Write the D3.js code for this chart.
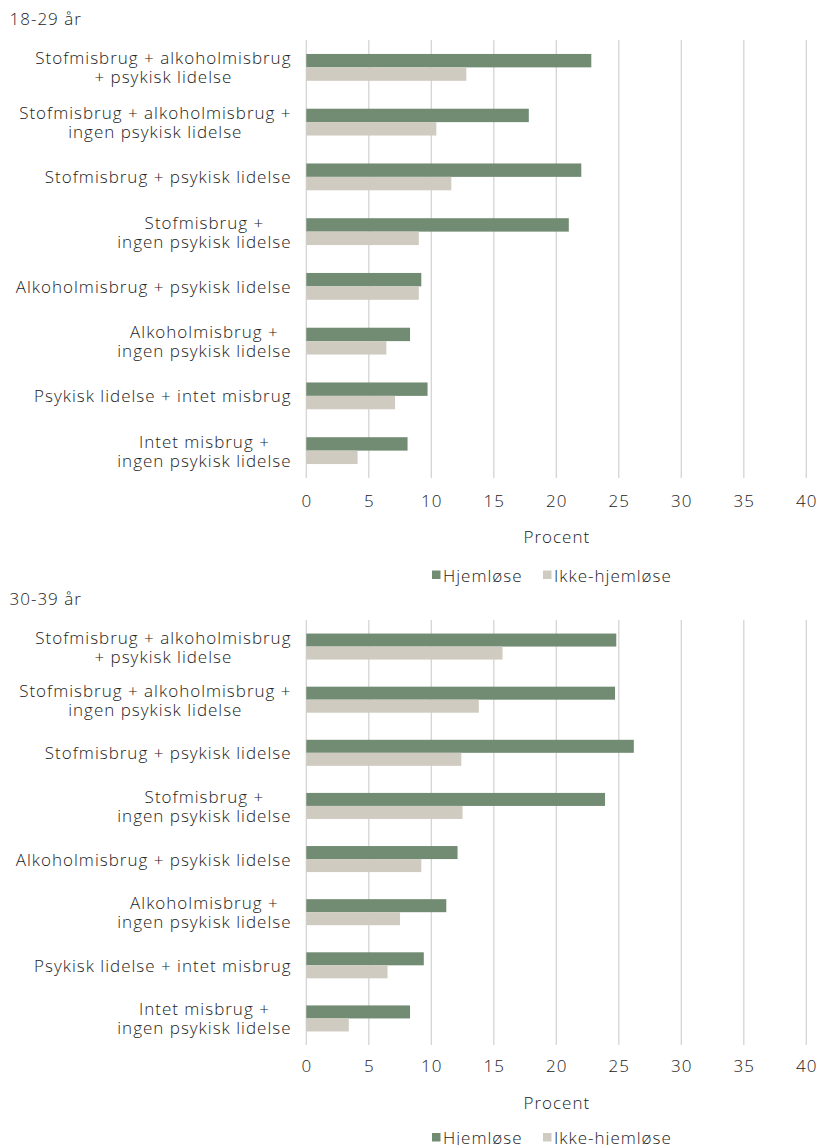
<!DOCTYPE html>
<html>
<head>
<meta charset="utf-8">
<script src="https://cdn.jsdelivr.net/npm/d3@7/dist/d3.min.js"></script>
<style>
  html, body { margin: 0; padding: 0; background: #ffffff; }
  svg { display: block; }
  text { font-family: "Open Sans", "Noto Sans", sans-serif; font-weight: 300; fill: #222222; letter-spacing: 1px; }
</style>
</head>
<body>
<script>
// Category labels (line breaks mark wrapped lines)
const categories = [
  "Stofmisbrug + alkoholmisbrug\n+ psykisk lidelse",
  "Stofmisbrug + alkoholmisbrug +\ningen psykisk lidelse",
  "Stofmisbrug + psykisk lidelse",
  "Stofmisbrug +\ningen psykisk lidelse",
  "Alkoholmisbrug + psykisk lidelse",
  "Alkoholmisbrug +\ningen psykisk lidelse",
  "Psykisk lidelse + intet misbrug",
  "Intet misbrug +\ningen psykisk lidelse"
];

const seriesNames = ["Hjemløse", "Ikke-hjemløse"];

// 18-29 år
const hjemloese1829      = [22.8, 17.8, 22.0, 21.0, 9.2, 8.3, 9.7, 8.1];
const ikkeHjemloese1829  = [12.8, 10.4, 11.6, 9.0, 9.0, 6.4, 7.1, 4.1];

// 30-39 år
const hjemloese3039      = [24.8, 24.7, 26.2, 23.9, 12.1, 11.2, 9.4, 8.3];
const ikkeHjemloese3039  = [15.7, 13.8, 12.4, 12.5, 9.2, 7.5, 6.5, 3.4];

const xTicks = [0, 5, 10, 15, 20, 25, 30, 35, 40];
const xDomain = [0, 40];

const colors = ["#728c73", "#cfcbc1"];
const FS = "17px";

const W = 821, H = 1145;
const svg = d3.select("body").append("svg").attr("width", W).attr("height", H);

// centred text that ignores the trailing letter-spacing
function centred(sel) {
  return sel.attr("text-anchor", "middle").attr("dx", 0.5);
}

function drawPanel(title, hj, ikke, layout) {
  const g = svg.append("g");

  g.append("text")
    .attr("x", 9.5).attr("y", layout.titleY)
    .attr("dominant-baseline", "central")
    .style("font-size", FS)
    .text(title);

  const x = d3.scaleLinear().domain(xDomain).range([306.3, 806.3]);
  const y = d3.scaleBand().domain(d3.range(categories.length))
    .range([layout.top, layout.bottom]).paddingInner(0.51).paddingOuter(0.255);
  const inner = d3.scaleBand().domain([0, 1]).range([0, y.bandwidth()]);

  // vertical gridlines
  g.append("g").selectAll("line").data(xTicks).join("line")
    .attr("x1", d => x(d)).attr("x2", d => x(d))
    .attr("y1", layout.top).attr("y2", layout.bottom)
    .attr("stroke", "#d4d4d4").attr("stroke-width", 1.3);

  // tick labels
  g.append("g").selectAll("text").data(xTicks).join("text")
    .attr("x", d => x(d)).attr("y", layout.tickY)
    .attr("dominant-baseline", "central")
    .style("font-size", FS)
    .call(centred)
    .text(d => d);

  g.append("text")
    .attr("x", x(20)).attr("y", layout.axisTitleY)
    .attr("dominant-baseline", "central")
    .style("font-size", FS)
    .call(centred)
    .text("Procent");

  // bars
  const rows = categories.map((c, i) => ({ i, vals: [hj[i], ikke[i]] }));
  const grp = g.append("g").selectAll("g").data(rows).join("g")
    .attr("transform", d => `translate(0,${y(d.i)})`);
  grp.selectAll("rect").data(d => d.vals.map((v, k) => ({ v, k }))).join("rect")
    .attr("x", x(0))
    .attr("y", d => inner(d.k))
    .attr("width", d => x(d.v) - x(0))
    .attr("height", inner.bandwidth())
    .attr("fill", d => colors[d.k]);

  // category labels: block right-aligned, lines centred within block
  const rightEdge = 291.5;
  const lineH = 19;
  categories.forEach((c, i) => {
    const lines = c.split("\n");
    const cy = y(i) + y.bandwidth() / 2;
    const tmp = lines.map((ln, j) => g.append("text")
      .attr("y", cy + (j - (lines.length - 1) / 2) * lineH)
      .attr("dominant-baseline", "central")
      .attr("text-anchor", "middle")
      .style("font-size", FS)
      .text(ln));
    const maxW = d3.max(tmp, t => t.node().getComputedTextLength());
    tmp.forEach(t => t.attr("x", rightEdge - maxW / 2));
  });

  // legend
  const lg = g.append("g");
  const items = [{ name: seriesNames[0], x: 432 }, { name: seriesNames[1], x: 543 }];
  items.forEach((it, k) => {
    lg.append("rect")
      .attr("x", it.x).attr("y", layout.legendY - 4.5)
      .attr("width", 8.5).attr("height", 8.5)
      .attr("fill", colors[k]);
    lg.append("text")
      .attr("x", it.x + 11).attr("y", layout.legendY)
      .attr("dominant-baseline", "central")
      .style("font-size", FS)
      .text(it.name);
  });
}

drawPanel("18-29 år", hjemloese1829, ikkeHjemloese1829,
  { titleY: 18, top: 40, bottom: 478, tickY: 500, axisTitleY: 536, legendY: 575 });
drawPanel("30-39 år", hjemloese3039, ikkeHjemloese3039,
  { titleY: 598, top: 620, bottom: 1045, tickY: 1065.5, axisTitleY: 1102, legendY: 1137.5 });
</script>
</body>
</html>
